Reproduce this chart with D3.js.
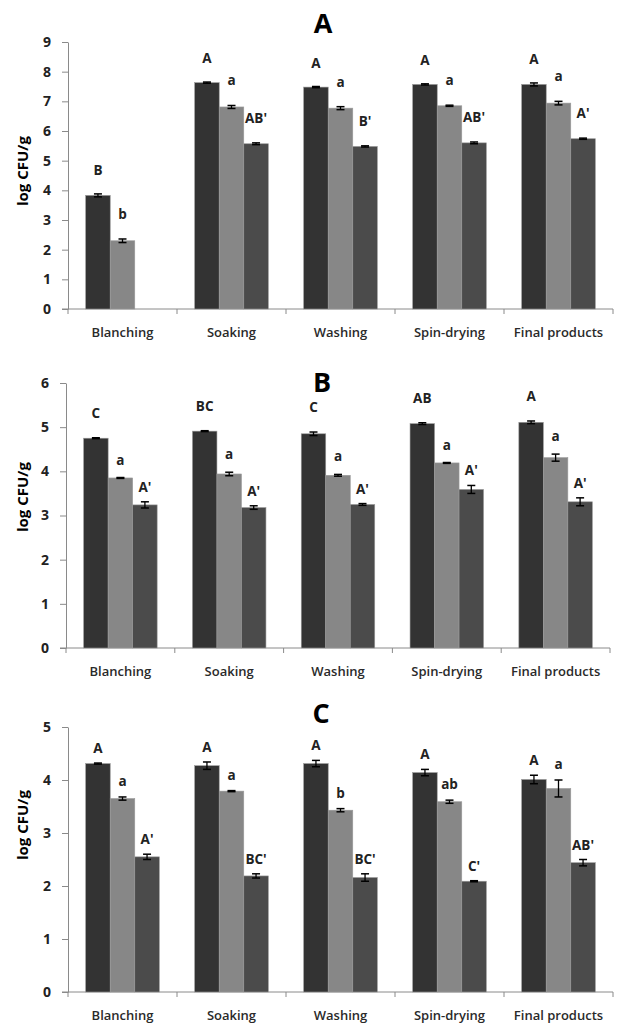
<!DOCTYPE html>
<html>
<head>
<meta charset="utf-8">
<script src="https://cdn.jsdelivr.net/npm/d3@7"></script>
<style>
  body { margin: 0; background: #fff; }
  text { font-family: "Open Sans", "DejaVu Sans", sans-serif; fill: #222; }
</style>
</head>
<body>
<div id="chart"></div>
<script>
// stages on the x axis, same for all three panels
const categories = ['Blanching', 'Soaking', 'Washing', 'Spin-drying', 'Final products'];

// panel A (log CFU/g), null = not detected
const aSeries1 = [3.83, 7.63, 7.48, 7.57, 7.57];
const aSeries2 = [2.30, 6.81, 6.77, 6.85, 6.94];
const aSeries3 = [null, 5.57, 5.48, 5.60, 5.74];
const aErr1 = [0.05, 0.02, 0.02, 0.02, 0.05];
const aErr2 = [0.06, 0.05, 0.05, 0.02, 0.06];
const aErr3 = [0, 0.03, 0.02, 0.03, 0.02];
const aLetters1 = ['B', 'A', 'A', 'A', 'A'];
const aLetters2 = ['b', 'a', 'a', 'a', 'a'];
const aLetters3 = ['', "AB'", "B'", "AB'", "A'"];
const aTicks = [0, 1, 2, 3, 4, 5, 6, 7, 8, 9];

// panel B
const bSeries1 = [4.75, 4.91, 4.85, 5.08, 5.11];
const bSeries2 = [3.85, 3.94, 3.91, 4.19, 4.31];
const bSeries3 = [3.24, 3.18, 3.25, 3.59, 3.31];
const bErr1 = [0.01, 0.01, 0.04, 0.02, 0.03];
const bErr2 = [0.01, 0.04, 0.02, 0.01, 0.08];
const bErr3 = [0.07, 0.04, 0.02, 0.09, 0.09];
const bLetters1 = ['C', 'BC', 'C', 'AB', 'A'];
const bLetters2 = ['a', 'a', 'a', 'a', 'a'];
const bLetters3 = ["A'", "A'", "A'", "A'", "A'"];
const bTicks = [0, 1, 2, 3, 4, 5, 6];

// panel C
const cSeries1 = [4.31, 4.27, 4.31, 4.14, 4.01];
const cSeries2 = [3.65, 3.79, 3.43, 3.59, 3.84];
const cSeries3 = [2.55, 2.19, 2.16, 2.09, 2.44];
const cErr1 = [0.01, 0.07, 0.06, 0.06, 0.08];
const cErr2 = [0.03, 0.01, 0.03, 0.03, 0.16];
const cErr3 = [0.05, 0.04, 0.07, 0.01, 0.06];
const cLetters1 = ['A', 'A', 'A', 'A', 'A'];
const cLetters2 = ['a', 'a', 'b', 'ab', 'a'];
const cLetters3 = ["A'", "BC'", "BC'", "C'", "AB'"];
const cTicks = [0, 1, 2, 3, 4, 5];

const COLORS = ['#333333', '#878787', '#4b4b4b'];

const panels = [
  { title: 'A', series: [aSeries1, aSeries2, aSeries3], errs: [aErr1, aErr2, aErr3],
    letters: [aLetters1, aLetters2, aLetters3], ticks: aTicks,
    left: 68, right: 613, top: 42, bottom: 309, titlePos: [323, 33], yTitle: 171, gaps: [19, 20, 20] },
  { title: 'B', series: [bSeries1, bSeries2, bSeries3], errs: [bErr1, bErr2, bErr3],
    letters: [bLetters1, bLetters2, bLetters3], ticks: bTicks,
    left: 66, right: 610, top: 383, bottom: 648, titlePos: [322, 392], yTitle: 497, gaps: [20, 13, 10] },
  { title: 'C', series: [cSeries1, cSeries2, cSeries3], errs: [cErr1, cErr2, cErr3],
    letters: [cLetters1, cLetters2, cLetters3], ticks: cTicks,
    left: 68, right: 613, top: 727, bottom: 992, titlePos: [321, 723], yTitle: 825, gaps: [10, 11, 10] }
];

const width = 619, height = 1023;

const svg = d3.select('#chart')
  .append('svg')
  .attr('width', width)
  .attr('height', height);

panels.forEach(p => {
  const g = svg.append('g');

  const x = d3.scaleBand()
    .domain(categories)
    .range([p.left, p.right])
    .padding(0);

  const xSub = d3.scaleBand()
    .domain([0, 1, 2])
    .range([0, x.bandwidth()])
    .paddingInner(0)
    .paddingOuter(0.72);

  const y = d3.scaleLinear()
    .domain([0, d3.max(p.ticks)])
    .range([p.bottom, p.top]);

  // y axis
  const yAxis = g.append('g')
    .attr('transform', `translate(${p.left},0)`)
    .call(d3.axisLeft(y)
      .tickValues(p.ticks)
      .tickFormat(d3.format('d'))
      .tickSizeInner(6)
      .tickSizeOuter(0)
      .tickPadding(11));
  yAxis.select('.domain').attr('stroke', '#8a8a8a');
  yAxis.selectAll('.tick line').attr('stroke', '#8a8a8a');
  yAxis.selectAll('.tick text')
    .style('font-size', '14px')
    .style('font-weight', 700)
    .style('font-family', '"Open Sans", sans-serif')
    .attr('fill', '#222');

  // x axis: line + ticks at band edges
  g.append('line')
    .attr('x1', p.left - 6).attr('x2', p.right)
    .attr('y1', y(0)).attr('y2', y(0))
    .attr('stroke', '#8a8a8a');

  const edges = categories.map(c => x(c)).concat([x.range()[1]]);
  g.selectAll('.xtick')
    .data(edges)
    .enter()
    .append('line')
    .attr('x1', d => d).attr('x2', d => d)
    .attr('y1', y(0)).attr('y2', y(0) + 5)
    .attr('stroke', '#8a8a8a');

  g.selectAll('.xlabel')
    .data(categories)
    .enter()
    .append('text')
    .attr('x', d => x(d) + x.bandwidth() / 2)
    .attr('y', y(0) + 28)
    .attr('text-anchor', 'middle')
    .style('font-size', '13px')
    .style('font-weight', 600)
    .style('fill', '#2a2a2a')
    .text(d => d);

  // bars
  const rows = [];
  p.series.forEach((vals, s) => {
    vals.forEach((v, i) => {
      if (v === null) return;
      rows.push({ cat: categories[i], s, v, e: p.errs[s][i], label: p.letters[s][i] });
    });
  });

  g.selectAll('.bar')
    .data(rows)
    .enter()
    .append('rect')
    .attr('x', d => x(d.cat) + xSub(d.s))
    .attr('y', d => y(d.v))
    .attr('width', xSub.bandwidth())
    .attr('height', d => y(0) - y(d.v))
    .attr('fill', d => COLORS[d.s])
    .attr('stroke', '#9a9a9a')
    .attr('stroke-width', 0.6);

  // error bars
  const cap = 4;
  const eb = g.selectAll('.err')
    .data(rows.filter(d => d.e > 0))
    .enter()
    .append('g')
    .attr('transform', d => `translate(${x(d.cat) + xSub(d.s) + xSub.bandwidth() / 2},0)`);
  eb.append('line')
    .attr('y1', d => y(d.v - d.e)).attr('y2', d => y(d.v + d.e))
    .attr('stroke', '#000').attr('stroke-width', 1.3);
  eb.append('line')
    .attr('x1', -cap).attr('x2', cap)
    .attr('y1', d => y(d.v + d.e)).attr('y2', d => y(d.v + d.e))
    .attr('stroke', '#000').attr('stroke-width', 1.5);
  eb.append('line')
    .attr('x1', -cap).attr('x2', cap)
    .attr('y1', d => y(d.v - d.e)).attr('y2', d => y(d.v - d.e))
    .attr('stroke', '#000').attr('stroke-width', 1.5);

  // significance letters
  g.selectAll('.letter')
    .data(rows)
    .enter()
    .append('text')
    .attr('x', d => x(d.cat) + xSub(d.s) + xSub.bandwidth() / 2)
    .attr('y', d => y(d.v + d.e) - p.gaps[d.s])
    .attr('text-anchor', 'middle')
    .style('font-size', '13.5px')
    .style('font-weight', 700)
    .text(d => d.label);

  // panel title
  g.append('text')
    .attr('x', p.titlePos[0])
    .attr('y', p.titlePos[1])
    .attr('text-anchor', 'middle')
    .style('font-size', '27px')
    .style('font-weight', 700)
    .style('fill', '#000')
    .text(p.title);

  // y axis title
  g.append('text')
    .attr('transform', `translate(28,${p.yTitle}) rotate(-90)`)
    .attr('text-anchor', 'middle')
    .style('font-size', '15px')
    .style('font-weight', 700)
    .style('fill', '#000')
    .text('log CFU/g');
});
</script>
</body>
</html>
